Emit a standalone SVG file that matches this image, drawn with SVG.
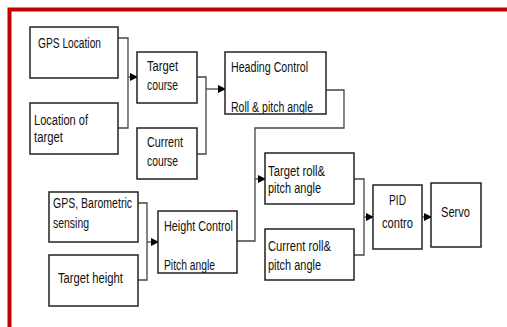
<svg xmlns="http://www.w3.org/2000/svg" width="507" height="327" viewBox="0 0 507 327">
<defs>
<style>
.box{fill:#fff;stroke:#222;stroke-width:1.5}
.t{font-family:"Liberation Sans",Arial,sans-serif;font-size:14px;fill:#111}
.c{fill:none;stroke:#444;stroke-width:1.3}
</style>
<marker id="ah" markerWidth="8" markerHeight="8" refX="7" refY="4" orient="auto" markerUnits="userSpaceOnUse">
<path d="M0,0 L8,4 L0,8 Z" fill="#000"/>
</marker>
<clipPath id="clipHead"><rect x="225" y="52" width="101" height="62"/></clipPath>
<clipPath id="clipHeight"><rect x="158" y="211" width="79" height="62"/></clipPath>
</defs>
<rect x="0" y="0" width="507" height="327" fill="#fff"/>
<path d="M9.5,335 V9.5 H515" fill="none" stroke="#c00000" stroke-width="4"/>
<g id="connectors">
<path class="c" d="M118,38 H128 V128 H118"/>
<path class="c" d="M128,77 H137" marker-end="url(#ah)"/>
<path class="c" d="M197,77 H206 V154 H197"/>
<path class="c" d="M206,89 H225" marker-end="url(#ah)"/>
<path class="c" d="M326,90 H344 V128 H255 V241 H237"/>
<path class="c" d="M255,179 H265" marker-end="url(#ah)"/>
<path class="c" d="M138,203 H147 V280 H138"/>
<path class="c" d="M147,242 H158" marker-end="url(#ah)"/>
<path class="c" d="M354,179 H364 V255 H354"/>
<path class="c" d="M364,217 H373" marker-end="url(#ah)"/>
<path class="c" d="M422,217 H431" marker-end="url(#ah)"/>
</g>
<g id="gps-location"><rect class="box" x="30" y="27" width="88" height="51"/><text class="t" x="38" y="48" textLength="63" lengthAdjust="spacingAndGlyphs">GPS Location</text></g>
<g id="location-of-target"><rect class="box" x="30" y="103" width="88" height="51"/><text class="t" x="34" y="125" textLength="54" lengthAdjust="spacingAndGlyphs">Location of</text><text class="t" x="34" y="142" textLength="29" lengthAdjust="spacingAndGlyphs">target</text></g>
<g id="target-course"><rect class="box" x="137" y="52" width="60" height="51"/><text class="t" x="147" y="71" textLength="31" lengthAdjust="spacingAndGlyphs">Target</text><text class="t" x="147" y="90" textLength="31" lengthAdjust="spacingAndGlyphs">course</text></g>
<g id="current-course"><rect class="box" x="137" y="128" width="60" height="51"/><text class="t" x="147" y="147" textLength="36" lengthAdjust="spacingAndGlyphs">Current</text><text class="t" x="147" y="166" textLength="31" lengthAdjust="spacingAndGlyphs">course</text></g>
<g id="heading-control"><rect class="box" x="225" y="52" width="101" height="62"/><g clip-path="url(#clipHead)"><text class="t" x="231" y="72" textLength="77" lengthAdjust="spacingAndGlyphs">Heading Control</text><text class="t" x="231" y="112" textLength="82" lengthAdjust="spacingAndGlyphs">Roll &amp; pitch angle</text></g></g>
<g id="gps-barometric"><rect class="box" x="49" y="192" width="89" height="50"/><text class="t" x="53" y="208" textLength="79" lengthAdjust="spacingAndGlyphs">GPS, Barometric</text><text class="t" x="53" y="228" textLength="36" lengthAdjust="spacingAndGlyphs">sensing</text></g>
<g id="target-height"><rect class="box" x="49" y="255" width="89" height="51"/><text class="t" x="58" y="283" textLength="65" lengthAdjust="spacingAndGlyphs">Target height</text></g>
<g id="height-control"><rect class="box" x="158" y="211" width="79" height="62"/><g clip-path="url(#clipHeight)"><text class="t" x="164" y="231" textLength="69" lengthAdjust="spacingAndGlyphs">Height Control</text><text class="t" x="164" y="270" textLength="51" lengthAdjust="spacingAndGlyphs">Pitch angle</text></g></g>
<g id="target-roll"><rect class="box" x="265" y="153" width="89" height="51"/><text class="t" x="268" y="176" textLength="57" lengthAdjust="spacingAndGlyphs">Target roll&amp;</text><text class="t" x="268" y="193" textLength="53" lengthAdjust="spacingAndGlyphs">pitch angle</text></g>
<g id="current-roll"><rect class="box" x="265" y="229" width="89" height="51"/><text class="t" x="268" y="251" textLength="63" lengthAdjust="spacingAndGlyphs">Current roll&amp;</text><text class="t" x="268" y="270" textLength="53" lengthAdjust="spacingAndGlyphs">pitch angle</text></g>
<g id="pid"><rect class="box" x="373" y="185" width="49" height="64"/><text class="t" x="389" y="205" textLength="17" lengthAdjust="spacingAndGlyphs">PID</text><text class="t" x="382" y="228" textLength="31" lengthAdjust="spacingAndGlyphs">contro</text></g>
<g id="servo"><rect class="box" x="431" y="183" width="50" height="64"/><text class="t" x="441" y="217" textLength="29" lengthAdjust="spacingAndGlyphs">Servo</text></g>
</svg>
